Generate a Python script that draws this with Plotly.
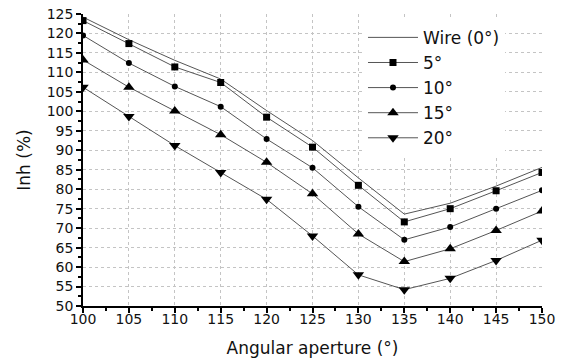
import plotly.graph_objects as go

aperture = [100, 105, 110, 115, 120, 125, 130, 135, 140, 145, 150]
wire = [124.2, 118.4, 113.1, 108.3, 100.2, 92.5, 82.9, 73.6, 76.4, 80.8, 85.6]
deg5 = [123.3, 117.4, 111.4, 107.4, 98.5, 90.8, 81.0, 71.6, 75.0, 79.6, 84.3]
deg10 = [119.5, 112.4, 106.4, 101.2, 92.9, 85.5, 75.5, 67.0, 70.3, 75.0, 79.7]
deg15 = [113.2, 106.2, 100.1, 94.0, 86.9, 78.8, 68.5, 61.4, 64.7, 69.4, 74.4]
deg20 = [106.2, 98.7, 91.2, 84.3, 77.4, 68.0, 58.0, 54.2, 57.1, 61.7, 66.9]

series = [
    ("Wire (0°)", wire, None, 0),
    ("5°", deg5, "square", 7),
    ("10°", deg10, "circle", 6),
    ("15°", deg15, "triangle-up", 10),
    ("20°", deg20, "triangle-down", 10),
]

fig = go.Figure()
for name, vals, sym, size in series:
    if sym is None:
        fig.add_trace(go.Scatter(x=aperture, y=vals, name=name, mode="lines",
                                 line=dict(color="#555555", width=1)))
    else:
        fig.add_trace(go.Scatter(x=aperture, y=vals, name=name, mode="lines+markers",
                                 line=dict(color="#555555", width=1),
                                 marker=dict(symbol=sym, size=size, color="black")))

FONT = "DejaVu Sans"
axis_common = dict(
    showline=True, linecolor="black", linewidth=1.5,
    ticks="outside", ticklen=5, tickwidth=1.5, tickcolor="black",
    showgrid=True, gridcolor="#c4c4c4", griddash="dot", gridwidth=1,
    zeroline=False, mirror=False, automargin=False,
    tickfont=dict(family=FONT, size=14, color="#111"),
)

fig.update_xaxes(range=[100, 150], dtick=5, tick0=100, ticklabelstandoff=-6,
                 title=dict(text="Angular aperture (°)", font=dict(family=FONT, size=17, color="#111"), standoff=17),
                 minor=dict(dtick=2.5, ticks="outside", ticklen=3, tickcolor="black", showgrid=False),
                 **axis_common)
fig.update_yaxes(range=[50, 125], dtick=5, tick0=50,
                 title=dict(text="Inh (%)", font=dict(family=FONT, size=17, color="#111"), standoff=12),
                 minor=dict(dtick=2.5, ticks="outside", ticklen=3, tickcolor="black", showgrid=False),
                 **axis_common)

fig.update_layout(
    width=567, height=363,
    margin=dict(l=83, r=25, t=14, b=57, autoexpand=False),
    paper_bgcolor="white", plot_bgcolor="white",
    showlegend=True,
    legend=dict(x=0.61, y=0.98, xanchor="left", yanchor="top",
                bgcolor="white", borderwidth=0,
                font=dict(family=FONT, size=17, color="#111"),
                itemwidth=50),
)

fig.write_html("out.html", config={"displayModeBar": False},
               post_script="document.body.style.margin='0';")
